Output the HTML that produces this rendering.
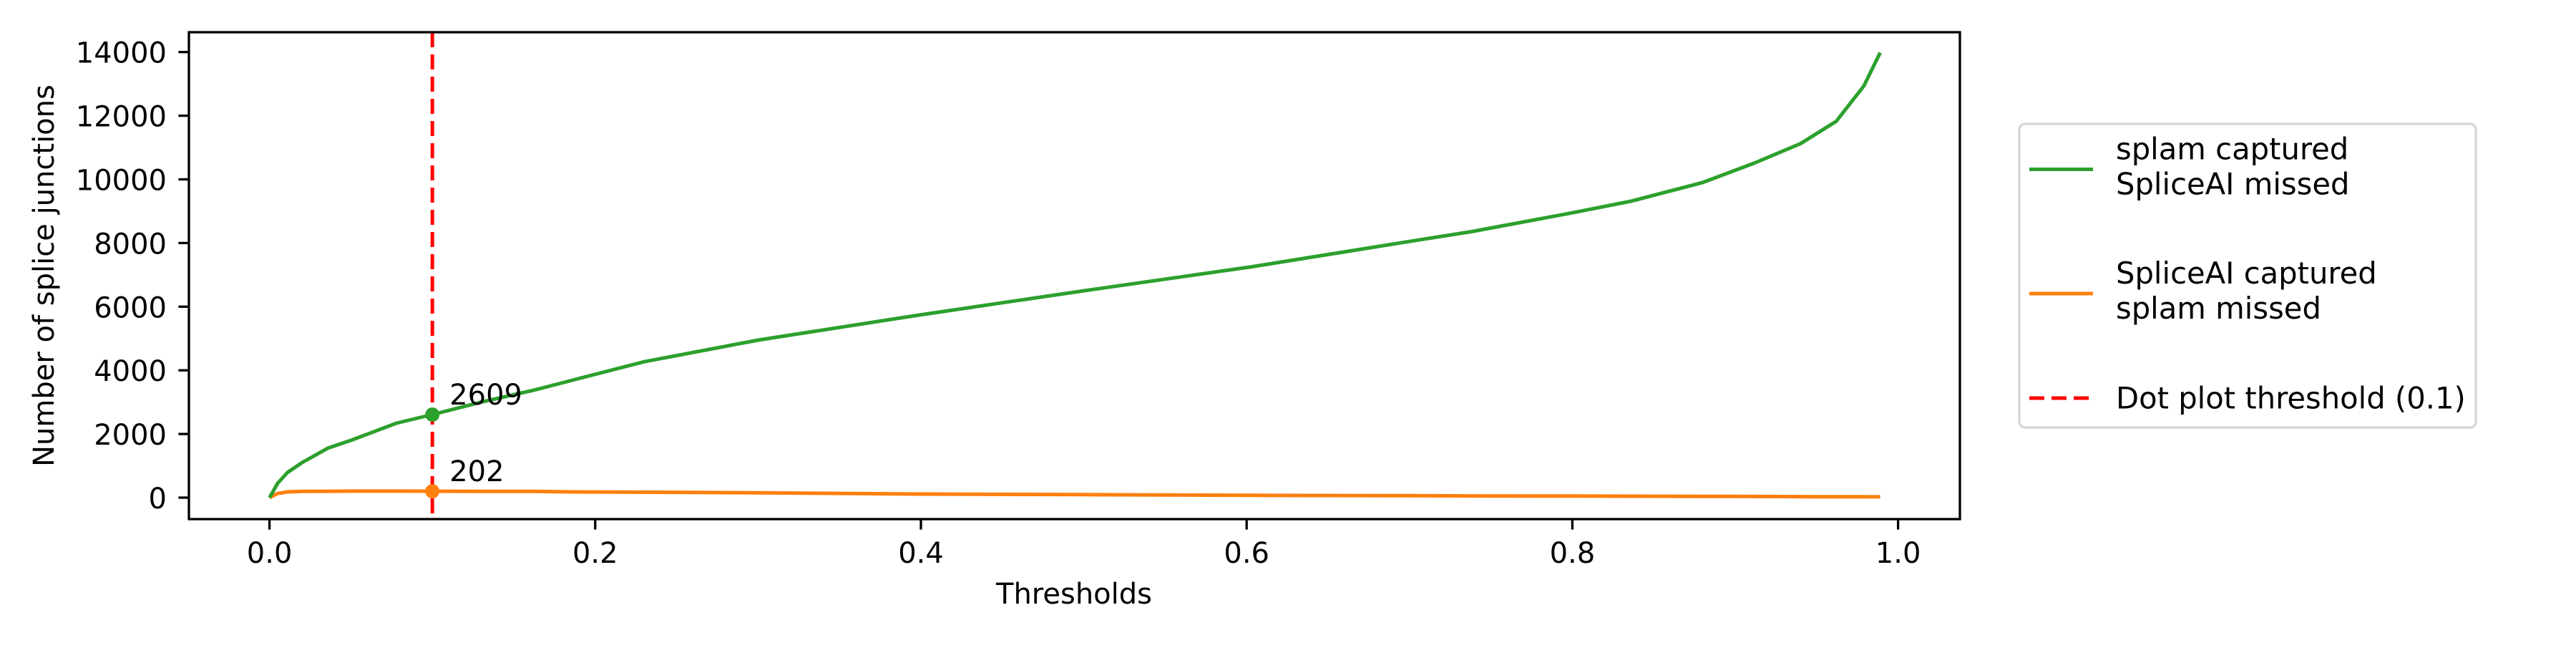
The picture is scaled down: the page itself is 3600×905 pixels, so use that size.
<!DOCTYPE html>
<html><head><meta charset="utf-8"><style>
html,body{margin:0;padding:0;background:#fff;}
svg text{font-family:"DejaVu Sans","Liberation Sans",sans-serif;}
</style></head><body>
<svg id="chart" width="3600" height="900" viewBox="0 0 3600 900" xmlns="http://www.w3.org/2000/svg">
<rect width="3600" height="900" fill="#fff"/>
<g id="plot"></g>
</svg>
<script>
const thresholds = [0,0.005,0.011,0.02,0.036,0.05,0.078,0.1,0.13,0.162,0.186,0.23,0.3,0.4,0.5,0.603,0.7,0.738,0.8,0.836,0.88,0.912,0.94,0.962,0.979,0.989];
const splamCaptured = [0,450,787,1100,1560,1800,2340,2609,3000,3373,3690,4270,4950,5746,6500,7253,8050,8358,8950,9314,9900,10517,11120,11822,12936,13982];
const spliceaiCaptured = [0,130,180,195,200,205,205,202,198,195,180,170,150,112,95,72,60,55,50,45,40,35,32,28,26,25];
const xTicks = [0,0.2,0.4,0.6,0.8,1.0];
const xTickLabels = ["0.0","0.2","0.4","0.6","0.8","1.0"];
const yTicks = [0,2000,4000,6000,8000,10000,12000,14000];
const yTickLabels = ["0","2000","4000","6000","8000","10000","12000","14000"];
const markerThreshold = 0.1;
const markerValues = [2609,202];

const NS="http://www.w3.org/2000/svg";
const L=264,R=2739,T=45,B=725;
const xs=v=>376.6+v*2276;
const ys=v=>695-v*(88.9/2000);
const g=document.getElementById('plot');
function el(tag,attrs,parent){const e=document.createElementNS(NS,tag);for(const k in attrs)e.setAttribute(k,attrs[k]);(parent||g).appendChild(e);return e;}

function series(vals,color,name){
  const d=thresholds.map((t,i)=>(i?'L':'M')+xs(t).toFixed(1)+','+ys(vals[i]).toFixed(1)).join(' ');
  const p=el('path',{d:d,fill:'none',stroke:color,'stroke-width':5,'stroke-linejoin':'round'});
  
  
}
series(spliceaiCaptured,'#ff7f0e','spliceai-captured-line');
series(splamCaptured,'#2ca02c','splam-captured-line');

const vl=el('line',{x1:xs(markerThreshold),x2:xs(markerThreshold),y1:T,y2:B,stroke:'#ff0000','stroke-width':5,'stroke-dasharray':'21,10'});



const mColors=['#2ca02c','#ff7f0e'];
markerValues.forEach((v,i)=>{
  const c=el('circle',{cx:xs(markerThreshold),cy:ys(v),r:10,fill:mColors[i]});
  
  
  const t=el('text',{x:xs(markerThreshold)+24,y:ys(v)-14,'font-size':40});
  t.textContent=String(v);
  
  
});

const fr=el('rect',{x:L,y:T,width:R-L,height:B-T,fill:'none',stroke:'#000','stroke-width':3.3});



xTicks.forEach((t,i)=>{
  el('line',{x1:xs(t),x2:xs(t),y1:B,y2:B+14.6,stroke:'#000','stroke-width':3.3});
  const tx=el('text',{x:xs(t),y:786,'font-size':40,'text-anchor':'middle'});
  tx.textContent=xTickLabels[i];
  
  
});
yTicks.forEach((t,i)=>{
  el('line',{x1:L-14.6,x2:L,y1:ys(t),y2:ys(t),stroke:'#000','stroke-width':3.3});
  const tx=el('text',{x:233,y:ys(t)+15,'font-size':40,'text-anchor':'end'});
  tx.textContent=yTickLabels[i];
  
  
});
const xl=el('text',{x:1501,y:843,'font-size':40,'text-anchor':'middle'});
xl.textContent='Thresholds';


const yl=el('text',{x:0,y:0,'font-size':40,'text-anchor':'middle',transform:'translate(75,385) rotate(-90)'});
yl.textContent='Number of splice junctions';



const lg=el('g',{});


el('rect',{x:2822,y:173,width:638,height:424,rx:8,fill:'#fff',stroke:'#d5d5d5','stroke-width':3.3},lg);
const entries=[
  {c:'#2ca02c',dash:null,y:236.5,lines:['splam captured','SpliceAI missed'],n:'legend-entry-splam'},
  {c:'#ff7f0e',dash:null,y:410,lines:['SpliceAI captured','splam missed'],n:'legend-entry-spliceai'},
  {c:'#ff0000',dash:'21,10',y:556,lines:['Dot plot threshold (0.1)'],n:'legend-entry-threshold'}
];
entries.forEach(e=>{
  const eg=el('g',{},lg);
  
  
  const a={x1:2836,x2:2925,y1:e.y,y2:e.y,stroke:e.c,'stroke-width':5};
  if(e.dash)a['stroke-dasharray']=e.dash;
  el('line',a,eg);
  const n=e.lines.length;
  e.lines.forEach((s,k)=>{
    const off = n===1 ? 14.7 : 10.5+(k-0.5)*49;
    const t=el('text',{x:2957,y:e.y+off,'font-size':41.7},eg);
    t.textContent=s;
  });
});
</script>
</body></html>
